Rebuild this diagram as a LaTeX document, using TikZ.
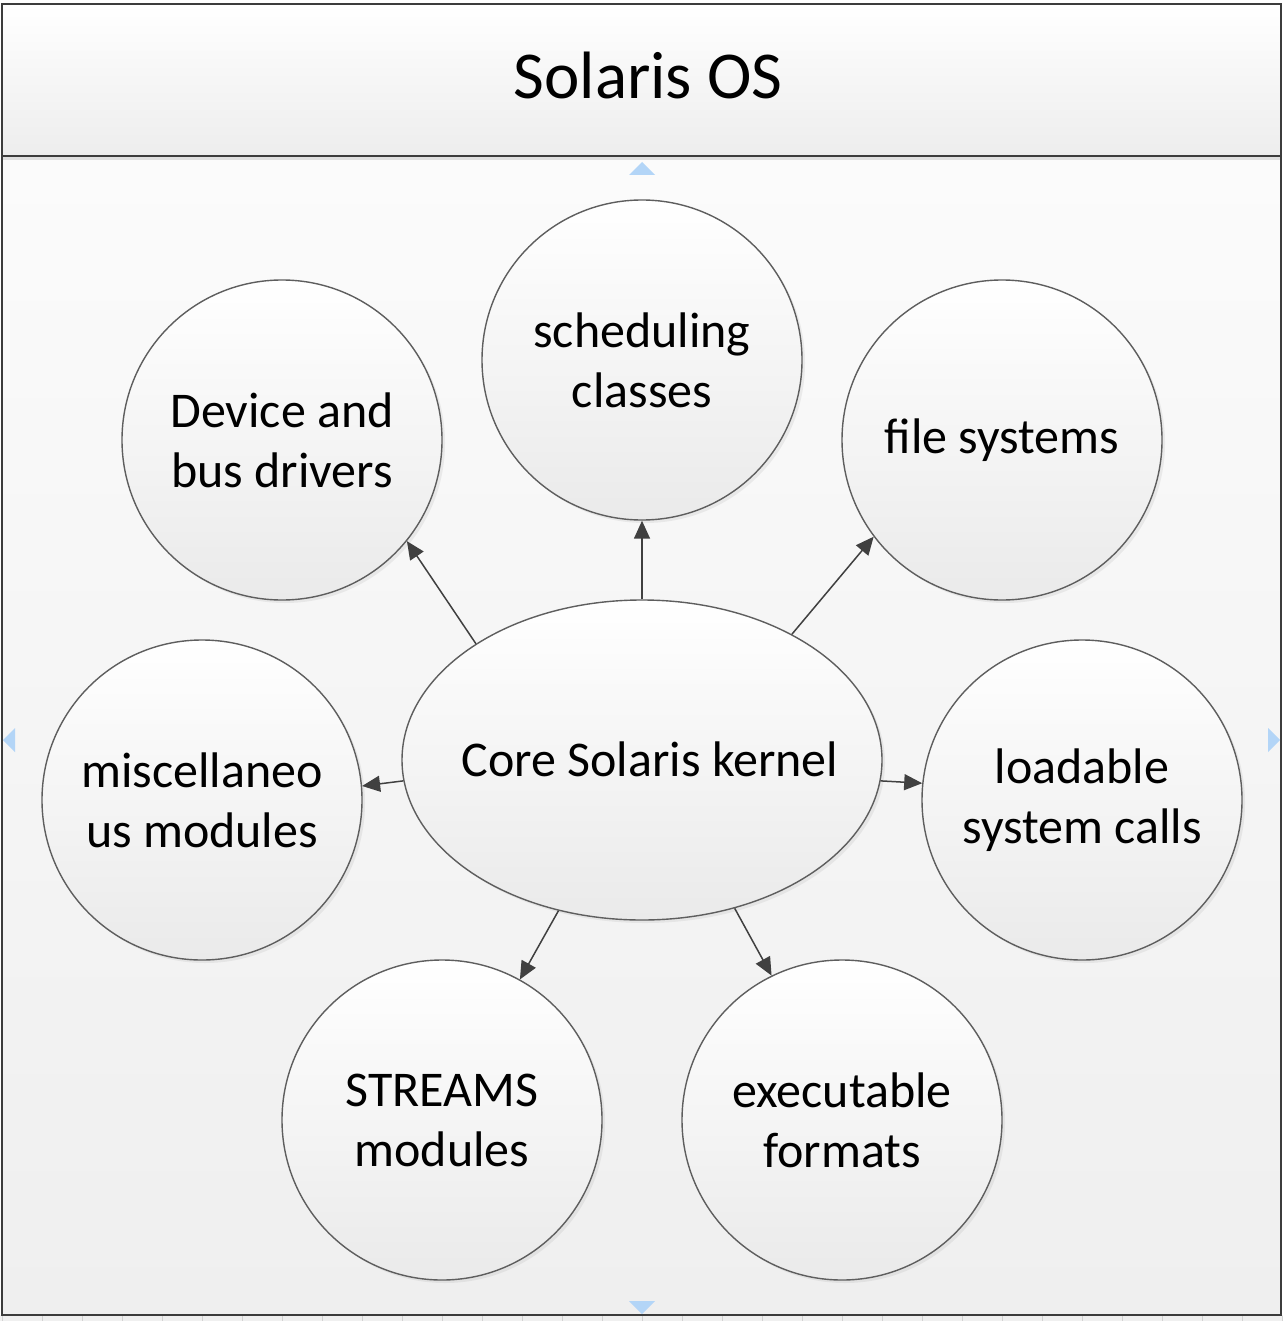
\documentclass[tikz,border=0pt]{standalone}
\usepackage{fontspec}
\setmainfont{Carlito}
\usetikzlibrary{arrows.meta,shadows,shapes.geometric}
\definecolor{linegray}{HTML}{5E5E5E}
\definecolor{framegray}{HTML}{3C3C3C}
\definecolor{fillbot}{HTML}{EAEAEA}
\definecolor{bodytop}{HTML}{FBFBFB}
\definecolor{bodybot}{HTML}{EFEFEF}
\definecolor{headbot}{HTML}{EDEDED}
\definecolor{markblue}{HTML}{B3D5F7}
\definecolor{arrowgray}{HTML}{404040}
\begin{document}
\begin{tikzpicture}[x=0.5pt,y=-0.5pt,
  bubble/.style={circle, draw=linegray, line width=0.7pt, minimum size=160pt, inner sep=0pt,
    top color=white, bottom color=fillbot, align=center,
    drop shadow={opacity=0.12, shadow xshift=1.5pt, shadow yshift=-1.5pt},
    font=\fontsize{25}{30}\selectfont},
  coreshape/.style={ellipse, draw=linegray, line width=0.7pt, minimum width=240pt, minimum height=160pt, inner sep=0pt,
    top color=white, bottom color=fillbot,
    drop shadow={opacity=0.12, shadow xshift=1.5pt, shadow yshift=-1.5pt},
    font=\fontsize{25}{30}\selectfont},
  link/.style={draw=arrowgray, line width=0.75pt, -{Triangle[length=9pt,width=8pt]}},
  bluemark/.style={fill=markblue, draw=none}
]
\useasboundingbox (0,0) rectangle (1283,1321);
% bottom strip
\fill[gray!12] (0,1315) rectangle (1283,1321);
\foreach \t in {2,42,...,1282} \draw[gray!35, line width=0.5pt] (\t,1316) -- (\t,1321);
% body and header
\shade[top color=bodytop, bottom color=bodybot] (2,156) rectangle (1281,1315);
\shade[top color=white, bottom color=headbot] (2,4) rectangle (1281,156);
\fill[gray!25] (3,157) rectangle (1280,160);
\draw[framegray, line width=1.2pt] (2,4) rectangle (1281,1315);
\draw[framegray, line width=1.1pt] (2,156) -- (1281,156);
\node[font=\fontsize{33.5}{40}\selectfont] (title) at (648,75) {Solaris OS};
% blue marks
\fill[bluemark] (629,175) -- (642,162) -- (655,175) -- cycle;
\fill[bluemark] (629,1301) -- (642,1314) -- (655,1301) -- cycle;
\fill[bluemark] (15,728) -- (3,740) -- (15,752) -- cycle;
\fill[bluemark] (1268,728) -- (1280,740) -- (1268,752) -- cycle;
% nodes
\node[coreshape] (core) at (642,760) {\makebox[0pt]{\raisebox{1pt}{\hspace*{8pt}Core Solaris kernel}}};
\node[bubble] (sched) at (642,360) {scheduling\\classes};
\node[bubble] (dev) at (282,440) {Device and\\bus drivers};
\node[bubble] (fs) at (1002,440) {file systems};
\node[bubble] (misc) at (202,800) {miscellaneo\\us modules};
\node[bubble] (load) at (1082,800) {loadable\\system calls};
\node[bubble] (streams) at (442,1120) {STREAMS\\modules};
\node[bubble] (exec) at (842,1120) {executable\\formats};
% connectors
\draw[link] (core.90) -- (sched.-90);
\draw[link] (core.145.1) -- (dev.-39.9);
\draw[link] (core.40.3) -- (fs.217.8);
\draw[link] (core.185.3) -- (misc.5.4);
\draw[link] (core.-5.3) -- (load.174.7);
\draw[link] (core.-119.2) -- (streams.61.2);
\draw[link] (core.-58.2) -- (exec.116.7);
\end{tikzpicture}
\end{document}
